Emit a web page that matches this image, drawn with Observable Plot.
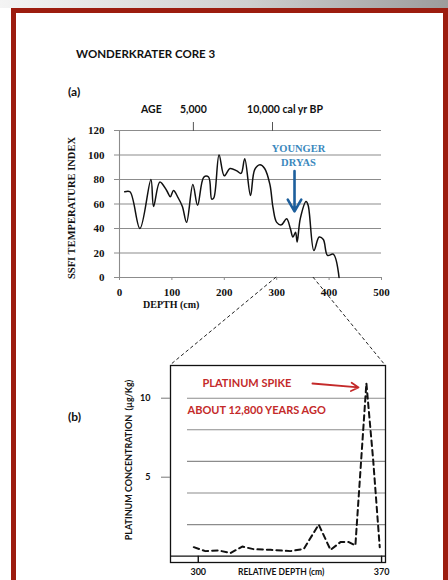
<!DOCTYPE html>
<html><head><meta charset="utf-8">
<script src="https://cdn.jsdelivr.net/npm/d3@7"></script>
<script src="https://cdn.jsdelivr.net/npm/@observablehq/plot@0.6"></script>
<style>
body{margin:0;background:#fff;}
#wrap{position:relative;width:448px;height:580px;overflow:hidden;background:#fff;}
#topband{position:absolute;left:0;top:0;width:448px;height:8px;background:linear-gradient(to right,#f4f4f4,#cfcfcf 55%,#9c9c9c);}
#frame{position:absolute;left:11px;top:8px;width:437px;height:620px;border:5px solid #9c1c0f;box-sizing:border-box;}
.t{position:absolute;white-space:nowrap;line-height:1;font-weight:bold;color:#111;}
.sans{font-family:Lato,"Open Sans",sans-serif;}
.serif{font-family:"Liberation Serif","DejaVu Serif",serif;}
.rot{transform:translate(-50%,-50%) rotate(-90deg);}
</style></head>
<body>
<div id="wrap">
  <div id="topband"></div>
  <div id="frame"></div>
  <div class="t sans" style="left:76px;top:48px;font-size:11.5px">WONDERKRATER CORE 3</div>
  <div class="t sans" style="left:68px;top:86px;font-size:12px">(a)</div>
  <div class="t sans" style="left:68px;top:411px;font-size:12px">(b)</div>
  <div class="t serif rot" style="left:72px;top:208px;font-size:10.5px">SSFI TEMPERATURE INDEX</div>
  <div class="t serif" style="left:143px;top:300px;font-size:10px">DEPTH (cm)</div>
  <div class="t sans rot" style="left:128px;top:460px;font-size:9px">PLATINUM CONCENTRATION&nbsp;&nbsp;(µg/Kg)</div>
  <div class="t sans" style="left:238px;top:568px;font-size:8.5px">RELATIVE DEPTH (cm)</div>
</div>
<script>
// ---- Data: panel (a) SSFI temperature index vs depth ----
const depth = [10, 20, 39, 60, 65, 77, 90, 97, 103, 112, 120, 128, 140, 149, 161, 170, 176, 180, 190, 200, 211, 224, 232, 239, 250, 258, 268, 277, 287, 293, 300, 309, 319, 326, 331, 336, 339, 345, 356, 360, 371, 381, 389, 397, 408, 419];
const ssfi  = [70, 70, 40, 80, 58, 78, 71, 66, 71, 65, 58, 45, 76, 59, 82, 82, 64, 65, 100, 83, 89, 87, 85, 97, 67, 88, 92, 89, 76, 57, 45, 43, 48, 40, 33, 37, 29, 48, 62, 59, 22, 33, 31, 18, 19, 0];
const depthTicks = [0, 100, 200, 300, 400, 500];
const ssfiTicks = [0, 20, 40, 60, 80, 100, 120];
const ageTickDepth = [141, 292];
const ageTickLabel = ["5,000", "10,000"];
const youngerDryas = {depth: 334, label: "YOUNGER\nDRYAS"};

// ---- Data: panel (b) platinum concentration vs relative depth ----
const relDepth = [298.3, 302.7, 307.8, 312.3, 316.8, 321.2, 327.6, 335.2, 340.3, 346.0, 350.5, 354.3, 357.5, 360.0, 364.2, 366.8, 369.3];
const platinum = [0.57, 0.32, 0.36, 0.2, 0.61, 0.44, 0.4, 0.32, 0.46, 2.0, 0.4, 0.89, 0.89, 0.68, 10.95, 6.07, 0.57];
const relTicks = [300, 370];
const ptTicks = [5, 10];
const ptGrid = [2, 4, 6, 8, 10];
const zoomRange = [300, 370];

const seriesA = depth.map((d, i) => ({depth: d, v: ssfi[i]}));
const seriesB = relDepth.map((d, i) => ({d, v: platinum[i]}));

const wrap = document.getElementById("wrap");
function place(svg, top) {
  svg.style.position = "absolute";
  svg.style.left = "0px";
  svg.style.top = top + "px";
  svg.style.overflow = "visible";
  wrap.appendChild(svg);
}

// ---------- Panel (a) ----------
const topY0 = 90;
const xDomA = [0, 500], yDomA = [0, 120];
const plotA = Plot.plot({
  width: 448, height: 220,
  marginLeft: 119, marginRight: 67, marginTop: 40, marginBottom: 33,
  x: {domain: xDomA}, y: {domain: yDomA},
  style: {fontFamily: "Liberation Serif", fontSize: "11px", fontWeight: "bold", color: "#111", background: "transparent"},
  marks: [
    Plot.gridY(ssfiTicks, {stroke: "#8c8c8c", strokeOpacity: 1, strokeWidth: 1.1}),
    Plot.ruleX([0], {stroke: "#8c8c8c", strokeWidth: 1.1}),
    Plot.axisY({ticks: ssfiTicks, tickSize: 5, tickPadding: 10, label: null, stroke: "#8c8c8c", fontSize: 11}),
    Plot.axisX({ticks: depthTicks, tickSize: 3, tickPadding: 8, label: null, stroke: "#8c8c8c", fontSize: 11}),
    Plot.axisX({anchor: "top", ticks: ageTickDepth, tickSize: 9, tickFormat: () => "", label: null, stroke: "#555"}),
    Plot.text([ageTickLabel[0]], {x: ageTickDepth[0], text: d => d, frameAnchor: "top", dy: -25, fontFamily: "Lato", fontSize: 10.5}),
    Plot.text(["AGE"], {x: ageTickDepth[0], text: d => d, frameAnchor: "top", dy: -25, dx: -42, fontFamily: "Lato", fontSize: 10.5}),
    Plot.text([ageTickLabel[1]], {x: ageTickDepth[1], text: d => d, frameAnchor: "top", dy: -25, dx: -9, fontFamily: "Lato", fontSize: 10.5}),
    Plot.text(["cal yr BP"], {x: ageTickDepth[1], text: d => d, frameAnchor: "top", dy: -25, dx: 10, textAnchor: "start", fontFamily: "Lato", fontSize: 10.5}),
    Plot.line(seriesA, {x: "depth", y: "v", curve: "catmull-rom", stroke: "#111", strokeWidth: 1.5}),
    Plot.text([youngerDryas], {x: "depth", y: 100.5, text: "label", dx: 4, lineHeight: 1.35, fill: "#3b88bd", fontSize: 10.5}),
    Plot.arrow([youngerDryas], {x1: "depth", x2: "depth", y1: 87, y2: 54, stroke: "#1d5f9c", strokeWidth: 2.6, headLength: 9})
  ]
});
place(plotA, topY0);

// ---------- Panel (b) ----------
const topY1 = 340;
const xDomB = [289.4, 371.5], yDomB = [-0.4, 12.07];
const spike = {x1: 343.6, y1: 10.93, x2: 361.2, y2: 10.68};
const plotB = Plot.plot({
  width: 448, height: 240,
  marginLeft: 170, marginRight: 63, marginTop: 25, marginBottom: 18,
  x: {domain: xDomB}, y: {domain: yDomB},
  style: {fontFamily: "Lato", fontSize: "9px", fontWeight: "bold", color: "#111", background: "transparent"},
  marks: [
    Plot.gridY(ptGrid, {stroke: "#8c8c8c", strokeOpacity: 1, strokeWidth: 1.1, insetLeft: 17}),
    Plot.ruleY([0], {stroke: "#111", strokeWidth: 1.2}),
    Plot.ruleX(relTicks, {y1: yDomB[0], y2: 0, stroke: "#111", strokeWidth: 1.4}),
    Plot.frame({stroke: "#111", strokeWidth: 1.3}),
    Plot.axisY({ticks: ptTicks, tickSize: 9, tickPadding: 11, label: null, stroke: "#777"}),
    Plot.axisX({ticks: relTicks, tickSize: 0, tickPadding: 6, label: null}),
    Plot.line(seriesB, {x: "d", y: "v", stroke: "#111", strokeWidth: 2, strokeDasharray: "5.5,4"}),
    Plot.text(["PLATINUM SPIKE"], {x: 301.6, y: spike.y1, text: d => d, textAnchor: "start", fill: "#c42a2a", fontSize: 11}),
    Plot.text(["ABOUT 12,800 YEARS AGO"], {x: 295.9, y: 9.22, text: d => d, textAnchor: "start", fill: "#c42a2a", fontSize: 11}),
    Plot.arrow([spike], {x1: "x1", y1: "y1", x2: "x2", y2: "y2", stroke: "#c42a2a", strokeWidth: 1.8, headLength: 7})
  ]
});
place(plotB, topY1);

// ---------- Zoom connector lines (derived from both plots' scales) ----------
const ax = plotA.scale("x"), ay = plotA.scale("y");
const bx = plotB.scale("x"), by = plotB.scale("y");
const ov = d3.select(wrap).append("svg")
  .attr("width", 448).attr("height", 580)
  .style("position", "absolute").style("left", 0).style("top", 0).style("pointer-events", "none");
const conn = [
  {x1: ax.apply(zoomRange[0]), y1: topY0 + ay.apply(0), x2: bx.apply(xDomB[0]), y2: topY1 + by.apply(yDomB[1])},
  {x1: ax.apply(zoomRange[1]), y1: topY0 + ay.apply(0), x2: bx.apply(xDomB[1]), y2: topY1 + by.apply(yDomB[1])}
];
ov.selectAll("line").data(conn).join("line")
  .attr("x1", d => d.x1).attr("y1", d => d.y1).attr("x2", d => d.x2).attr("y2", d => d.y2)
  .attr("stroke", "#222").attr("stroke-width", 1).attr("stroke-dasharray", "3.5,2.5");
</script>
</body></html>
